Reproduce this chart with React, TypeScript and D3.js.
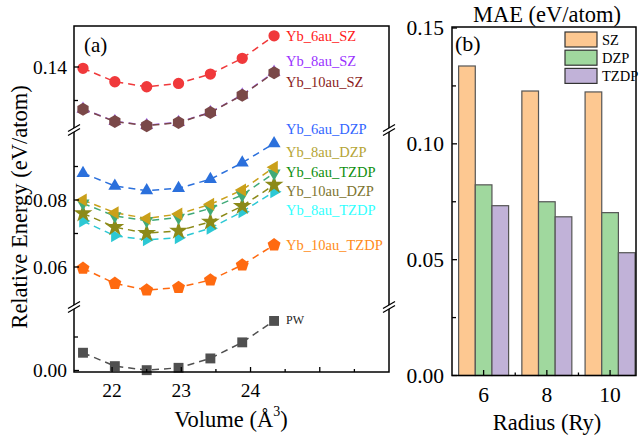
import React from 'react';
import * as d3 from 'd3';

// ---------- data ----------
const volumes = [21.58, 22.04, 22.5, 22.96, 23.42, 23.88, 24.34];
const xTicksLeft = [22, 23, 24];

const pw = [0.0053, 0.0013, 0.0001, 0.0008, 0.0036, 0.0084, 0.0148];
const yb6SZ = [0.1396, 0.1356, 0.1341, 0.1351, 0.1379, 0.1426, 0.1493];
const yb8SZ = [0.1275, 0.1238, 0.1226, 0.1235, 0.1265, 0.1317, 0.1385];
const yb10SZ = [0.1274, 0.1237, 0.1225, 0.1234, 0.1264, 0.1316, 0.1383];
const yb6DZP = [0.088, 0.0842, 0.0828, 0.0835, 0.0862, 0.0911, 0.0969];
const yb8DZP = [0.08, 0.0762, 0.0745, 0.0758, 0.0787, 0.083, 0.0898];
const yb6TZDP = [0.079, 0.0752, 0.0738, 0.0748, 0.0775, 0.0815, 0.088];
const yb10DZP = [0.076, 0.0719, 0.0701, 0.0708, 0.0735, 0.0782, 0.0845];
const yb8TZDP = [0.0737, 0.0693, 0.0681, 0.0687, 0.0716, 0.0765, 0.0825];
const yb10TZDP = [0.0596, 0.0551, 0.0531, 0.0539, 0.0561, 0.0606, 0.0666];

const radii = [6, 8, 10];
const basisSets = ['SZ', 'DZP', 'TZDP'];
const maeSZ = [0.1336, 0.1228, 0.1224];
const maeDZP = [0.0823, 0.075, 0.0703];
const maeTZDP = [0.0733, 0.0685, 0.053];

// ---------- layout ----------
const FONT = '"Liberation Serif", "Times New Roman", serif';
const L = { x0: 74, x1: 389, y0: 26, y1: 372 };
const R = { x0: 452, x1: 636, y0: 27, y1: 375.5 };

const xL = d3.scaleLinear().domain([21.45, 26]).range([L.x0, L.x1]);
const segBot = d3.scaleLinear().domain([0, 0.01]).range([370.5, 337]);
const segMid = d3.scaleLinear().domain([0.06, 0.08]).range([267, 200]);
const segTop = d3.scaleLinear().domain([0.13, 0.14]).range([100.5, 67]);
const BREAKS = [130, 307];

const xR = d3.scaleLinear().domain([5, 10.82]).range([R.x0, R.x1]);
const yR = d3.scaleLinear().domain([0, 0.15]).range([R.y1, 28]);

function poly(n: number, r: number, rotDeg: number) {
  const pts: string[] = [];
  for (let i = 0; i < n; i++) {
    const a = (rotDeg * Math.PI) / 180 + (i * 2 * Math.PI) / n;
    pts.push(`${(r * Math.cos(a)).toFixed(2)},${(r * Math.sin(a)).toFixed(2)}`);
  }
  return 'M' + pts.join('L') + 'Z';
}

const markers: Record<string, string> = {
  circle: d3.symbol(d3.symbolCircle, 100)() as string,
  square: poly(4, 7, 45),
  up: poly(3, 7.5, -90),
  down: poly(3, 7.5, 90),
  left: poly(3, 7.5, 180),
  right: poly(3, 7.5, 0),
  pentagon: poly(5, 6.8, -90),
  hexagon: poly(6, 6.5, -90),
  star: d3.symbol(d3.symbolStar, 110)() as string,
};

type Series = {
  name: string; values: number[]; seg: d3.ScaleLinear<number, number>;
  color: string; label: string; marker: string; ldy: number; fs: number;
};

const series: Series[] = [
  { name: 'PW', values: pw, seg: segBot, color: '#505050', label: '#222222', marker: 'square', ldy: -1, fs: 12 },
  { name: 'Yb_6au_SZ', values: yb6SZ, seg: segTop, color: '#f0393b', label: '#ff1a1a', marker: 'circle', ldy: 0.5, fs: 14.5 },
  { name: 'Yb_8au_SZ', values: yb8SZ, seg: segTop, color: '#a468f0', label: '#9a33ff', marker: 'up', ldy: -11, fs: 14.5 },
  { name: 'Yb_10au_SZ', values: yb10SZ, seg: segTop, color: '#7a4848', label: '#8b1c1c', marker: 'hexagon', ldy: 9, fs: 14.5 },
  { name: 'Yb_6au_DZP', values: yb6DZP, seg: segMid, color: '#2b70dc', label: '#3366ff', marker: 'up', ldy: -14, fs: 14.5 },
  { name: 'Yb_8au_TZDP', values: yb8TZDP, seg: segMid, color: '#2cc8d4', label: '#33ffff', marker: 'right', ldy: 18, fs: 14.5 },
  { name: 'Yb_10au_DZP', values: yb10DZP, seg: segMid, color: '#8c8a18', label: '#7d7530', marker: 'star', ldy: 6, fs: 14.5 },
  { name: 'Yb_6au_TZDP', values: yb6TZDP, seg: segMid, color: '#3faa78', label: '#0f900f', marker: 'down', ldy: -1, fs: 14.5 },
  { name: 'Yb_8au_DZP', values: yb8DZP, seg: segMid, color: '#caa01a', label: '#b5a535', marker: 'left', ldy: -15.5, fs: 14.5 },
  { name: 'Yb_10au_TZDP', values: yb10TZDP, seg: segMid, color: '#ff6a10', label: '#ff8c1a', marker: 'pentagon', ldy: 0, fs: 14.5 },
];

const barSeries = [
  { name: basisSets[0], values: maeSZ, fill: '#fdc891' },
  { name: basisSets[1], values: maeDZP, fill: '#a0d89e' },
  { name: basisSets[2], values: maeTZDP, fill: '#c1b2d8' },
];

function BreakMark({ x, y }: { x: number; y: number }) {
  return (
    <g>
      <polygon points={`${x - 6},${y + 5.5} ${x + 6},${y - 1.5} ${x + 6},${y - 5.5} ${x - 6},${y + 1.5}`} fill="#fff" />
      <line x1={x - 6} y1={y + 5.5} x2={x + 6} y2={y - 1.5} stroke="#000" strokeWidth={1.3} />
      <line x1={x - 6} y1={y + 1.5} x2={x + 6} y2={y - 5.5} stroke="#000" strokeWidth={1.3} />
    </g>
  );
}

export default function App() {
  const leftTicks = [
    { v: 0, s: segBot, lab: '0.00' }, { v: 0.01, s: segBot, lab: '' },
    { v: 0.06, s: segMid, lab: '0.06' }, { v: 0.07, s: segMid, lab: '' },
    { v: 0.08, s: segMid, lab: '0.08' }, { v: 0.09, s: segMid, lab: '' },
    { v: 0.13, s: segTop, lab: '' }, { v: 0.14, s: segTop, lab: '0.14' },
  ];
  const xMinorL = [22.5, 23.5, 24.5, 25.5];
  const xMajorL = [22, 23, 24, 25];
  const barW = xR(6.527) - xR(6);

  return (
    <svg width={639} height={443} style={{ position: 'absolute', left: 0, top: 0 }} fontFamily={FONT}>
      <rect width={639} height={443} fill="#fff" />
      {/* ---------- left panel ---------- */}
      {series.map((s) => {
        const line = d3.line<number>().x((_, i) => xL(volumes[i])).y((d) => s.seg(d));
        return (
          <path key={s.name + 'l'} d={line(s.values) as string} fill="none" stroke={s.color}
            strokeWidth={1.5} strokeDasharray="7,5" />
        );
      })}
      {series.map((s) => (
        <g key={s.name + 'm'}>
          {s.values.map((v, i) => (
            <path key={i} d={markers[s.marker]} transform={`translate(${xL(volumes[i])},${s.seg(v)})`} fill={s.color} />
          ))}
        </g>
      ))}
      {series.map((s) => (
        <text key={s.name + 't'} x={xL(volumes[6]) + 12} y={s.seg(s.values[6]) + s.ldy}
          dominantBaseline="central" fontSize={s.fs} fill={s.label}>{s.name}</text>
      ))}
      {/* frame */}
      <rect x={L.x0} y={L.y0} width={L.x1 - L.x0} height={L.y1 - L.y0} fill="none" stroke="#000" strokeWidth={1.5} />
      {BREAKS.map((b) => (
        <g key={b}>
          <BreakMark x={L.x0} y={b} />
          <BreakMark x={L.x1} y={b} />
        </g>
      ))}
      {leftTicks.map((t, i) => (
        <g key={i}>
          <line x1={L.x0} x2={L.x0 + (t.lab ? 5 : 4)} y1={t.s(t.v)} y2={t.s(t.v)} stroke="#000" strokeWidth={1.3} />
          {t.lab && (
            <text x={L.x0 - 7} y={t.s(t.v)} textAnchor="end" dominantBaseline="central" fontSize={19.5}>{t.lab}</text>
          )}
        </g>
      ))}
      {xMajorL.map((t) => (
        <line key={t} x1={xL(t)} x2={xL(t)} y1={L.y1} y2={L.y1 - 5} stroke="#000" strokeWidth={1.3} />
      ))}
      {xMinorL.map((t) => (
        <line key={t} x1={xL(t)} x2={xL(t)} y1={L.y1} y2={L.y1 - 3} stroke="#000" strokeWidth={1.3} />
      ))}
      {xTicksLeft.map((t) => (
        <text key={t} x={xL(t)} y={390} textAnchor="middle" dominantBaseline="central" fontSize={19.5}>{t}</text>
      ))}
      <text x={84} y={45} dominantBaseline="central" fontSize={21}>(a)</text>
      <text x={231} y={419} textAnchor="middle" dominantBaseline="central" fontSize={22.5}>
        Volume (Å<tspan dy={-8} fontSize={14}>3</tspan><tspan dy={8}>)</tspan>
      </text>
      <text transform="translate(19,207) rotate(-90)" textAnchor="middle" dominantBaseline="central" fontSize={22.5}>
        Relative Energy (eV/atom)
      </text>

      {/* ---------- right panel ---------- */}
      {barSeries.map((bs, j) => (
        <g key={bs.name}>
          {bs.values.map((v, i) => (
            <rect key={i} x={xR(radii[i]) + (j - 1.5) * barW} y={yR(v)} width={barW} height={yR(0) - yR(v)}
              fill={bs.fill} stroke="#555" strokeWidth={1.2} />
          ))}
        </g>
      ))}
      <rect x={R.x0} y={R.y0} width={R.x1 - R.x0} height={R.y1 - R.y0} fill="none" stroke="#000" strokeWidth={1.5} />
      {[0, 0.025, 0.05, 0.075, 0.1, 0.125, 0.15].map((t, i) => (
        <g key={t}>
          <line x1={R.x0} x2={R.x0 + (i % 2 === 0 ? 5 : 4)} y1={yR(t)} y2={yR(t)} stroke="#000" strokeWidth={1.3} />
          {i % 2 === 0 && (
            <text x={R.x0 - 8} y={yR(t)} textAnchor="end" dominantBaseline="central" fontSize={21.5}>{t.toFixed(2)}</text>
          )}
        </g>
      ))}
      {[6, 7, 8, 9, 10].map((t) => (
        <line key={t} x1={xR(t)} x2={xR(t)} y1={R.y1} y2={R.y1 - (t % 2 === 0 ? 5.5 : 3)} stroke="#000" strokeWidth={1.3} />
      ))}
      {radii.map((t) => (
        <text key={t} x={xR(t)} y={395} textAnchor="middle" dominantBaseline="central" fontSize={21.5}>{t}</text>
      ))}
      <text x={455} y={43} dominantBaseline="central" fontSize={22}>(b)</text>
      <text x={547} y={14} textAnchor="middle" dominantBaseline="central" fontSize={22.5}>MAE (eV/atom)</text>
      <text x={547} y={422} textAnchor="middle" dominantBaseline="central" fontSize={22.5}>Radius (Ry)</text>
      {barSeries.map((bs, j) => (
        <g key={bs.name + 'lg'}>
          <rect x={565} y={32 + j * 18.2} width={32} height={15} fill={bs.fill} stroke="#333" strokeWidth={1.2} />
          <text x={602} y={39.5 + j * 18.2} dominantBaseline="central" fontSize={14.5}>{bs.name}</text>
        </g>
      ))}
    </svg>
  );
}
